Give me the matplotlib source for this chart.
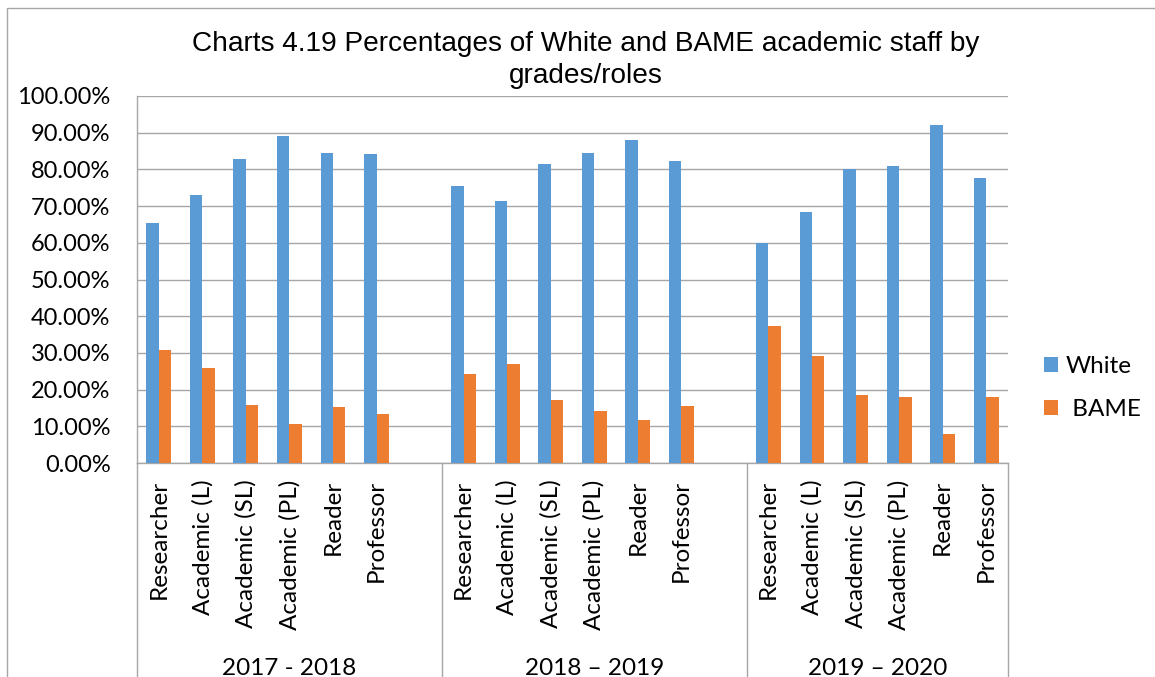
import matplotlib.pyplot as plt
import matplotlib.transforms as mtransforms
from matplotlib.patches import Rectangle
from matplotlib.ticker import FuncFormatter

years = ['2017 - 2018', '2018 \u2013 2019', '2019 \u2013 2020']
roles = ['Researcher', 'Academic (L)', 'Academic (SL)', 'Academic (PL)', 'Reader', 'Professor']

white = [
    [65.5, 73.0, 82.8, 89.1, 84.5, 84.2],
    [75.6, 71.3, 81.6, 84.4, 88.0, 82.2],
    [59.9, 68.5, 80.1, 80.8, 92.1, 77.7],
]
bame = [
    [30.9, 25.9, 15.8, 10.7, 15.3, 13.4],
    [24.2, 26.9, 17.2, 14.1, 11.7, 15.5],
    [37.4, 29.2, 18.6, 18.0, 7.8, 18.1],
]

BLUE = '#5B9BD5'
ORANGE = '#ED7D31'
GRID = '#A6A6A6'
BODY_FONT = 'Lato'

fig = plt.figure(figsize=(11.55, 6.77), dpi=100)
ax = fig.add_axes([137 / 1155, 1 - 463 / 677, 871 / 1155, 367 / 677])

# one empty slot after each year group, like the original spreadsheet
slot = len(roles) + 1
positions, white_vals, bame_vals, tick_labels = [], [], [], []
for g in range(len(years)):
    for i, role in enumerate(roles):
        positions.append(g * slot + i)
        white_vals.append(white[g][i] / 100)
        bame_vals.append(bame[g][i] / 100)
        tick_labels.append(role)

w = 0.286
bars_w = ax.bar([p - w / 2 for p in positions], white_vals, width=w, color=BLUE, label='White', zorder=3)
bars_b = ax.bar([p + w / 2 for p in positions], bame_vals, width=w, color=ORANGE, label=' BAME', zorder=3)

n_slots = len(years) * slot - 1
ax.set_xlim(-0.5, n_slots - 0.5)
ax.set_ylim(0, 1)
ax.set_yticks([i / 10 for i in range(11)])
ax.yaxis.set_major_formatter(FuncFormatter(lambda v, _: f'{v * 100:.2f}%'))
ax.grid(axis='y', color=GRID, linewidth=1.0, zorder=0)

ax.set_xticks(positions)
ax.set_xticklabels(tick_labels, rotation=90, fontsize=17.5, family=BODY_FONT, va='top')
ax.tick_params(axis='x', length=0, pad=12)
ax.tick_params(axis='y', length=0, pad=19, labelsize=17)
for lbl in ax.get_yticklabels():
    lbl.set_family(BODY_FONT)

for side in ['top', 'right']:
    ax.spines[side].set_visible(False)
for side in ['left', 'bottom']:
    ax.spines[side].set_color(GRID)
    ax.spines[side].set_linewidth(1.0)

# group separators and year labels below the axis
trans = mtransforms.blended_transform_factory(ax.transData, ax.transAxes)
bounds = [-0.5] + [g * slot + len(roles) + 0.5 for g in range(len(years) - 1)] + [n_slots - 0.5]
for b in bounds:
    ax.plot([b, b], [0, -1], transform=trans, color=GRID, linewidth=1.0, clip_on=False)
for g, year in enumerate(years):
    centre = (bounds[g] + bounds[g + 1]) / 2
    ax.text(centre, -0.56, year, transform=trans, ha='center', va='center',
            fontsize=17.5, family=BODY_FONT)

fig.suptitle('Charts 4.19 Percentages of White and BAME academic staff by\ngrades/roles',
             x=586 / 1155, y=1 - 31 / 677, va='top',
             fontsize=20.2, family='Liberation Sans', linespacing=1.3)

fig.legend(handles=[bars_w, bars_b], labels=['White', ' BAME'], loc='center left',
           bbox_to_anchor=(1022 / 1155, 1 - 388 / 677), frameon=False,
           prop={'family': BODY_FONT, 'size': 17.5},
           handlelength=0.6, handleheight=0.6, handletextpad=0.3, labelspacing=0.9)

# outer chart border
fig.patches.append(Rectangle((7 / 1155, -0.1), 1.2, 1.1 - 8 / 677, transform=fig.transFigure,
                             fill=False, edgecolor=GRID, linewidth=1.0))

fig.savefig('out.png', dpi=100)
